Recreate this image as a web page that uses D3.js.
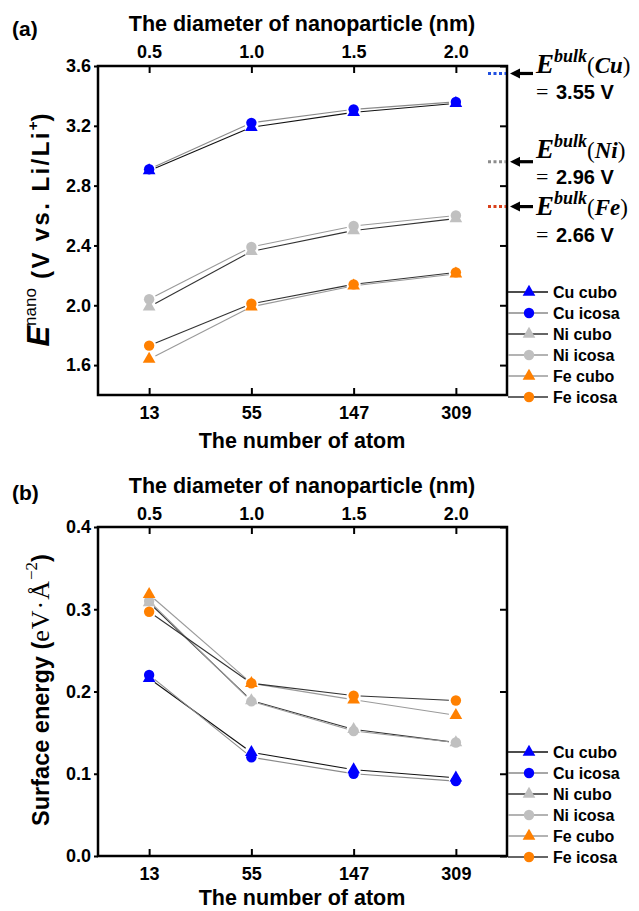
<!DOCTYPE html>
<html>
<head>
<meta charset="utf-8">
<script src="https://cdn.jsdelivr.net/npm/d3@7/dist/d3.min.js"></script>
<style>
  html, body { margin: 0; padding: 0; background: #fff; }
  svg { display: block; }
  text { font-family: "Liberation Sans", Arial, sans-serif; font-weight: bold; fill: #000; }
</style>
</head>
<body>
<svg id="chart" width="639" height="911"></svg>
<script>
// ---- data ----
const atoms = ["13", "55", "147", "309"];
const diameters = ["0.5", "1.0", "1.5", "2.0"];
const seriesNames = ["Cu cubo", "Cu icosa", "Ni cubo", "Ni icosa", "Fe cubo", "Fe icosa"];

// E^nano (V vs. Li/Li+)
const cuCuboV  = [2.90, 3.19, 3.29, 3.35];
const cuIcosaV = [2.91, 3.22, 3.31, 3.36];
const niCuboV  = [1.99, 2.36, 2.50, 2.58];
const niIcosaV = [2.04, 2.39, 2.53, 2.60];
const feCuboV  = [1.64, 1.99, 2.13, 2.21];
const feIcosaV = [1.73, 2.01, 2.14, 2.22];

// Surface energy (eV/Å^2)
const cuCuboS  = [0.216, 0.126, 0.105, 0.095];
const cuIcosaS = [0.220, 0.120, 0.100, 0.091];
const niCuboS  = [0.308, 0.189, 0.154, 0.138];
const niIcosaS = [0.310, 0.188, 0.152, 0.138];
const feCuboS  = [0.318, 0.210, 0.190, 0.171];
const feIcosaS = [0.297, 0.210, 0.195, 0.189];

// bulk potentials
const bulkNames  = ["Cu", "Ni", "Fe"];
const bulkValues = [3.55, 2.96, 2.66];

const voltTicks   = [1.6, 2.0, 2.4, 2.8, 3.2, 3.6];
const energyTicks = [0.0, 0.1, 0.2, 0.3, 0.4];

// ---- styles ----
const markerColors = ["#0000ff", "#0000ff", "#c0c0c0", "#c0c0c0", "#ff8000", "#ff8000"];
const markerShapes = [d3.symbolTriangle, d3.symbolCircle, d3.symbolTriangle, d3.symbolCircle, d3.symbolTriangle, d3.symbolCircle];
const lineColors   = ["#111111", "#8a8a8a", "#333333", "#9a9a9a", "#9a9a9a", "#333333"];
const bulkColors   = ["#1f4fe0", "#8c8c8c", "#d9401a"];

const svg = d3.select("#chart");
const L = 98, R = 507;

const x = d3.scalePoint().domain(atoms).range([L, R]).padding(0.5);
const xTop = d3.scalePoint().domain(diameters).range([L, R]).padding(0.5);

function markerPath(si) {
  return d3.symbol().type(markerShapes[si]).size(markerShapes[si] === d3.symbolCircle ? 85 : 70)();
}

function drawPanel(cfg) {
  const g = svg.append("g");
  const y = cfg.y;
  const T = y.range()[1], B = y.range()[0];

  // frame
  g.append("rect").attr("x", L).attr("y", T).attr("width", R - L).attr("height", B - T)
    .attr("fill", "none").attr("stroke", "#000").attr("stroke-width", 2.5);

  const style = sel => {
    sel.select(".domain").remove();
    sel.selectAll(".tick line").attr("stroke", "#000").attr("stroke-width", 2);
    sel.selectAll(".tick text").style("font-size", "18px").style("font-family", "'Liberation Sans', Arial, sans-serif").style("font-weight", "bold");
  };

  g.append("g").attr("transform", `translate(${L},0)`)
    .call(d3.axisLeft(y).tickValues(cfg.ticks).tickFormat(d3.format(".1f")).tickSize(4).tickPadding(3)).call(style);
  g.append("g").attr("transform", `translate(${R},0)`)
    .call(d3.axisRight(y).tickValues(cfg.ticks).tickFormat("").tickSize(-7)).call(style);
  g.append("g").attr("transform", `translate(0,${B})`)
    .call(d3.axisBottom(x).tickSize(-7).tickPadding(11)).call(style);
  g.append("g").attr("transform", `translate(0,${T})`)
    .call(d3.axisTop(xTop).tickSize(-7).tickPadding(cfg.topPad)).call(style);

  // titles
  g.append("text").attr("x", 302).attr("y", cfg.topTitleY).attr("text-anchor", "middle")
    .style("font-size", "21.5px").text("The diameter of nanoparticle (nm)");
  g.append("text").attr("x", 302).attr("y", cfg.bottomTitleY).attr("text-anchor", "middle")
    .style("font-size", "21.5px").text("The number of atom");
  g.append("text").attr("x", 12).attr("y", cfg.tagY).style("font-size", "21px").text(cfg.tag);

  // connecting lines, drawn with a small gap around each marker
  const gap = 7;
  cfg.series.forEach((vals, si) => {
    for (let i = 0; i < vals.length - 1; i++) {
      const x1 = x(atoms[i]), y1 = y(vals[i]);
      const x2 = x(atoms[i + 1]), y2 = y(vals[i + 1]);
      const len = Math.hypot(x2 - x1, y2 - y1);
      const ux = (x2 - x1) / len, uy = (y2 - y1) / len;
      g.append("line")
        .attr("x1", x1 + ux * gap).attr("y1", y1 + uy * gap)
        .attr("x2", x2 - ux * gap).attr("y2", y2 - uy * gap)
        .attr("stroke", lineColors[si]).attr("stroke-width", 1.1);
    }
  });

  // markers
  cfg.series.forEach((vals, si) => {
    g.selectAll(null).data(vals).enter().append("path")
      .attr("transform", (d, i) => `translate(${x(atoms[i])},${y(d)})`)
      .attr("d", markerPath(si))
      .attr("fill", markerColors[si]);
  });

  // legend
  const rowH = 21;
  const lg = g.append("g");
  seriesNames.forEach((name, si) => {
    const ry = cfg.legendBottom - (seriesNames.length - 1 - si) * rowH;
    lg.append("line").attr("x1", R + 1).attr("x2", 548).attr("y1", ry).attr("y2", ry)
      .attr("stroke", lineColors[si]).attr("stroke-width", 1.3);
    lg.append("path").attr("transform", `translate(529,${ry})`)
      .attr("d", markerPath(si))
      .attr("fill", markerColors[si]);
    lg.append("text").attr("x", 553).attr("y", ry + 5.5).style("font-size", "16px").text(name);
  });
  return g;
}

// ---- panel (a) ----
const yV = d3.scaleLinear().domain([1.4, 3.6]).range([395, 66]);
drawPanel({
  y: yV, ticks: voltTicks, topPad: 8, topTitleY: 31, bottomTitleY: 448, tag: "(a)", tagY: 36,
  series: [cuCuboV, cuIcosaV, niCuboV, niIcosaV, feCuboV, feIcosaV], legendBottom: 397
});

// y title (a)
const ta = svg.append("text").attr("transform", "translate(49,230) rotate(-90)").attr("text-anchor", "middle");
ta.append("tspan").style("font-size", "31px").style("font-style", "italic").text("E");
ta.append("tspan").style("font-size", "17px").style("font-weight", "normal").attr("dy", -13).text("nano");
ta.append("tspan").style("font-size", "24px").style("letter-spacing", "2.4px").attr("dy", 13).text(" (V vs. Li/Li");
ta.append("tspan").style("font-size", "15px").attr("dy", -11).text("+");
ta.append("tspan").style("font-size", "24px").attr("dy", 11).text(")");

// bulk potential markers and two-line labels
const bulkTextY = [73, 158, 215];
const bulkLineGap = [26, 26, 27];
bulkValues.forEach((v, i) => {
  const yy = yV(v);
  svg.append("line").attr("x1", 488).attr("x2", 506).attr("y1", yy).attr("y2", yy)
    .attr("stroke", bulkColors[i]).attr("stroke-width", 3).attr("stroke-dasharray", "3,2.5");
  svg.append("line").attr("x1", 533).attr("x2", 518).attr("y1", yy).attr("y2", yy)
    .attr("stroke", "#000").attr("stroke-width", 3.2);
  svg.append("path").attr("d", `M510,${yy} L520,${yy - 5} L520,${yy + 5} Z`).attr("fill", "#000");

  const t = svg.append("text").attr("x", 536).attr("y", bulkTextY[i])
    .style("font-family", "'Liberation Serif', 'DejaVu Serif', serif");
  t.append("tspan").style("font-size", "27px").style("font-style", "italic").text("E");
  t.append("tspan").style("font-size", "18px").style("font-style", "italic").attr("dy", -11).text("bulk");
  t.append("tspan").style("font-size", "23px").style("font-weight", "normal").attr("dy", 11).text("(");
  t.append("tspan").style("font-size", "23px").style("font-style", "italic").text(bulkNames[i]);
  t.append("tspan").style("font-size", "23px").style("font-weight", "normal").text(")");
  t.append("tspan").attr("x", 536).attr("dy", bulkLineGap[i])
    .style("font-weight", "normal").style("font-size", "22px").text("=");
  t.append("tspan").attr("x", 556).style("font-family", "'Liberation Sans', Arial, sans-serif").style("font-size", "20px")
    .text(`${v.toFixed(2)} V`);
});

// ---- panel (b) ----
const yS = d3.scaleLinear().domain([0, 0.4]).range([856, 527]);
drawPanel({
  y: yS, ticks: energyTicks, topPad: 7, topTitleY: 493, bottomTitleY: 905, tag: "(b)", tagY: 500,
  series: [cuCuboS, cuIcosaS, niCuboS, niIcosaS, feCuboS, feIcosaS], legendBottom: 857
});

// y title (b)
const tb = svg.append("text").attr("transform", "translate(49,690) rotate(-90)").attr("text-anchor", "middle");
tb.append("tspan").style("font-size", "23.5px").text("Surface energy (");
tb.append("tspan").style("font-family", "'Liberation Serif', serif").style("font-weight", "normal").style("font-size", "26px").style("letter-spacing", "1px").text("eV\u00B7\u00C5");
tb.append("tspan").style("font-family", "'Liberation Serif', serif").style("font-weight", "normal").style("font-size", "17px").attr("dy", -12).text("\u22122");
tb.append("tspan").style("font-size", "23.5px").attr("dy", 12).text(")");
</script>
</body>
</html>
